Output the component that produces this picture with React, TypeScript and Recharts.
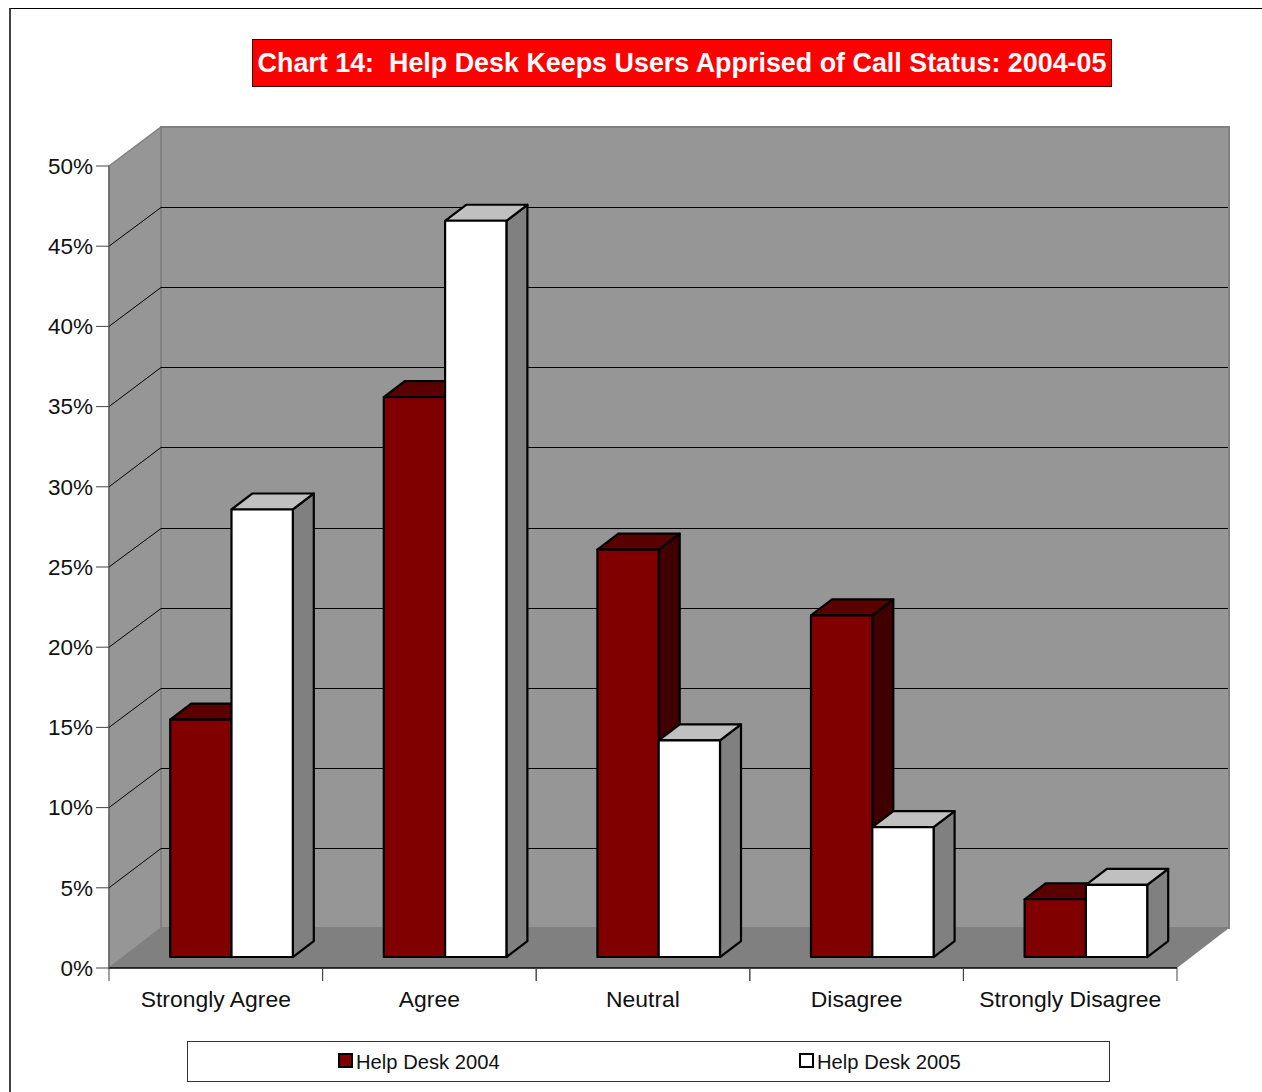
import React from 'react'
import { BarChart, Bar, XAxis, YAxis, CartesianGrid } from 'recharts'

const categories = ['Strongly Agree', 'Agree', 'Neutral', 'Disagree', 'Strongly Disagree']
const helpDesk2004 = [14.8, 34.9, 25.4, 21.3, 3.6]
const helpDesk2005 = [27.9, 45.9, 13.5, 8.1, 4.5]
const yTicks = [0, 5, 10, 15, 20, 25, 30, 35, 40, 45, 50]
const gridValues = [5, 10, 15, 20, 25, 30, 35, 40, 45]
const titleText = 'Chart 14:  Help Desk Keeps Users Apprised of Call Status: 2004-05'

const data = categories.map((name, i) => ({ name, y2004: helpDesk2004[i], y2005: helpDesk2005[i] }))

const FONT = '"Liberation Sans", Arial, sans-serif'

// plot box of the front plane, and how far the back wall sits behind it
const LEFT = 109
const RIGHT = 1177
const TOP = 166
const BOTTOM = 968
const DEPTH_X = 52
const DEPTH_Y = 40
// bars stand partway into the box and have their own shallower depth
const BAR_SHIFT_X = 15.2
const BAR_SHIFT_Y = 11
const BAR_DEPTH_X = 21
const BAR_DEPTH_Y = 16
const BAND = (RIGHT - LEFT) / categories.length

const pts = (list: number[][]) => list.map((p) => p.join(',')).join(' ')

// side wall, back wall and floor sit in their own svg under the transparent chart
function Walls() {
  const backLeft = LEFT + DEPTH_X
  const backRight = RIGHT + DEPTH_X
  const backBottom = BOTTOM - DEPTH_Y
  const backTop = TOP - DEPTH_Y + 1
  return (
    <svg width={1262} height={1092} style={{ position: 'absolute', left: 0, top: 0 }}>
      <polygon
        points={pts([[LEFT, TOP], [backLeft, backTop], [backLeft, backBottom], [LEFT, BOTTOM]])}
        fill="#969696"
        stroke="#808080"
        strokeWidth={1.5}
      />
      <rect
        x={backLeft}
        y={backTop}
        width={backRight - backLeft}
        height={backBottom - backTop}
        fill="#969696"
        stroke="#808080"
        strokeWidth={2}
      />
      <polygon
        points={pts([[backLeft, backBottom], [backRight, backBottom], [RIGHT, BOTTOM], [LEFT, BOTTOM]])}
        fill="#808080"
      />
    </svg>
  )
}

// grid lines run up the side wall and then across the back wall, snapped to a pixel row
function GridLine(props: any) {
  const { x1, x2, y1 } = props
  const backY = Math.floor(y1 - DEPTH_Y + 1) + 0.5
  return (
    <polyline
      points={pts([[x1, y1], [x1 + DEPTH_X, backY], [x2 + DEPTH_X - 1, backY]])}
      fill="none"
      stroke="#000"
      strokeWidth={1}
    />
  )
}

function makeBox(front: string, top: string, side: string) {
  return function Box(props: any) {
    const x = props.x + BAR_SHIFT_X
    const y = props.y - BAR_SHIFT_Y
    const w = props.width
    const h = props.height
    const edge = { stroke: '#000', strokeWidth: 2.2, strokeLinejoin: 'round' as const }
    return (
      <g>
        <polygon
          points={pts([[x + w, y], [x + w + BAR_DEPTH_X, y - BAR_DEPTH_Y], [x + w + BAR_DEPTH_X, y + h - BAR_DEPTH_Y], [x + w, y + h]])}
          fill={side}
          {...edge}
        />
        <polygon
          points={pts([[x, y], [x + BAR_DEPTH_X, y - BAR_DEPTH_Y], [x + w + BAR_DEPTH_X, y - BAR_DEPTH_Y], [x + w, y]])}
          fill={top}
          {...edge}
        />
        <rect x={x} y={y} width={w} height={h} fill={front} {...edge} />
      </g>
    )
  }
}

const Box2004 = makeBox('#800000', '#5a0000', '#400000')
const Box2005 = makeBox('#ffffff', '#c0c0c0', '#808080')

// category label plus the tick marks at both band edges
function CategoryTick(props: any) {
  const { x, payload } = props
  return (
    <g>
      <line x1={x - BAND / 2} x2={x - BAND / 2} y1={BOTTOM} y2={BOTTOM + 13} stroke="#444" />
      <line x1={x + BAND / 2} x2={x + BAND / 2} y1={BOTTOM} y2={BOTTOM + 13} stroke="#444" />
      <text x={x} y={BOTTOM + 39} textAnchor="middle" fontSize={22.9} fontFamily={FONT} fill="#111">
        {payload.value}
      </text>
    </g>
  )
}

function LegendItem({ label, color, left }: { label: string; color: string; left: number }) {
  return (
    <div style={{ position: 'absolute', left, top: 1042, height: 41, display: 'flex', alignItems: 'center' }}>
      <span style={{ width: 11, height: 11, background: color, border: '2px solid #000', marginRight: 3, marginTop: -5 }} />
      <span style={{ fontFamily: FONT, fontSize: 20.2, color: '#111', whiteSpace: 'pre' }}>{label}</span>
    </div>
  )
}

export default function App() {
  return (
    <div style={{ position: 'absolute', left: 0, top: 0, width: 1262, height: 1092, overflow: 'hidden', background: '#fff' }}>
      <div style={{ position: 'absolute', left: 9, top: 8, width: 1400, height: 1200, borderLeft: '2px solid #444', borderTop: '1px solid #000' }} />
      <div
        style={{
          position: 'absolute',
          left: 252,
          top: 39,
          width: 858,
          height: 46,
          background: '#ff0000',
          border: '1px solid #400',
          color: '#fff',
          fontFamily: FONT,
          fontWeight: 700,
          fontSize: 26.88,
          lineHeight: '46px',
          textAlign: 'center',
          whiteSpace: 'pre',
        }}
      >
        {titleText}
      </div>
      <Walls />
      <div style={{ position: 'absolute', left: 0, top: 0 }}>
        <BarChart
          width={1262}
          height={1092}
          data={data}
          margin={{ top: TOP, right: 1262 - RIGHT, bottom: 0, left: 0 }}
          barSize={61.3}
          barGap={0}
        >
          <CartesianGrid horizontal={GridLine} vertical={false} horizontalValues={gridValues} />
          <XAxis
            dataKey="name"
            height={1092 - BOTTOM}
            interval={0}
            axisLine={{ stroke: '#000', strokeWidth: 1.5 }}
            tickLine={false}
            tick={CategoryTick}
          />
          <YAxis
            width={LEFT}
            domain={[0, 50]}
            ticks={yTicks}
            interval={0}
            tickFormatter={(v: number) => `${v}%`}
            tick={{ fontSize: 22.5, fontFamily: FONT, fill: '#111', dy: -0.2 }}
            tickSize={13}
            tickMargin={3}
            tickLine={{ stroke: '#444' }}
            axisLine={{ stroke: '#555' }}
          />
          <Bar dataKey="y2004" isAnimationActive={false} shape={Box2004} />
          <Bar dataKey="y2005" isAnimationActive={false} shape={Box2005} />
        </BarChart>
      </div>
      <div style={{ position: 'absolute', left: 187, top: 1041, width: 921, height: 39, border: '1px solid #333', background: '#fff' }} />
      <LegendItem label="Help Desk 2004" color="#800000" left={338} />
      <LegendItem label="Help Desk 2005" color="#ffffff" left={799} />
    </div>
  )
}
